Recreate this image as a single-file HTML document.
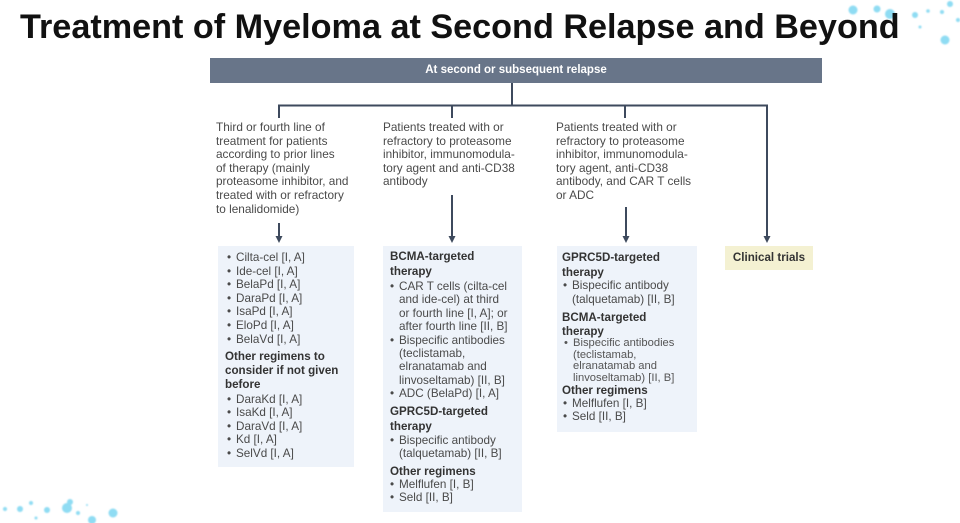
<!DOCTYPE html>
<html>
<head>
<meta charset="utf-8">
<style>
  html,body{margin:0;padding:0;background:#fff;}
  body{width:960px;height:523px;position:relative;overflow:hidden;font-family:"Liberation Sans",Arial,sans-serif;}
  .abs{position:absolute;}
  .title{left:20px;top:10px;font-size:34.2px;line-height:34px;font-weight:bold;color:#111;white-space:nowrap;}
  .bar{left:210px;top:58px;width:612px;height:25px;background:#687589;}
  .bar span{display:block;text-align:center;color:#fff;font-size:11.5px;font-weight:bold;line-height:25px;}
  .col{font-size:11.8px;line-height:13.6px;color:#4a4a4a;white-space:nowrap;}
  .box{background:#eef3fa;}
  .cl{background:#f4f1d2;}
  .t{font-size:11.7px;color:#4a4a4a;white-space:nowrap;}
  .h{font-size:11.6px;font-weight:bold;color:#333;white-space:nowrap;}
  .b{position:relative;padding-left:9px;}
  .b:before{content:"•";position:absolute;left:0;top:0;}
  .ind{padding-left:9px;}
</style>
</head>
<body>

<!-- decorative dots -->
<svg class="abs" style="left:0;top:0" width="960" height="523">
  <defs>
    <filter id="bl" x="-50%" y="-50%" width="200%" height="200%"><feGaussianBlur stdDeviation="0.8"/></filter>
  </defs>
  <g fill="#8fdcf3" filter="url(#bl)">
    <circle cx="853" cy="10" r="4.5"/>
    <circle cx="877" cy="9" r="3.5"/>
    <circle cx="890" cy="14" r="5"/>
    <circle cx="915" cy="15" r="3"/>
    <circle cx="928" cy="11" r="1.8"/>
    <circle cx="942" cy="12" r="2"/>
    <circle cx="950" cy="4" r="3"/>
    <circle cx="945" cy="40" r="4.5"/>
    <circle cx="920" cy="27" r="1.5"/>
    <circle cx="958" cy="20" r="2"/>
    <circle cx="5" cy="509" r="2"/>
    <circle cx="20" cy="509" r="3"/>
    <circle cx="31" cy="503" r="2"/>
    <circle cx="36" cy="518" r="1.5"/>
    <circle cx="47" cy="510" r="3"/>
    <circle cx="67" cy="508" r="5"/>
    <circle cx="70" cy="502" r="3"/>
    <circle cx="78" cy="513" r="2"/>
    <circle cx="87" cy="505" r="1"/>
    <circle cx="92" cy="520" r="4"/>
    <circle cx="113" cy="513" r="4.5"/>
  </g>
</svg>

<div class="abs title">Treatment of Myeloma at Second Relapse and Beyond</div>

<div class="abs bar"><span>At second or subsequent relapse</span></div>

<!-- connectors -->
<svg class="abs" style="left:0;top:0" width="960" height="523">
  <g stroke="#3e4a5d" stroke-width="2" fill="none">
    <line x1="512" y1="83" x2="512" y2="106"/>
    <line x1="278" y1="105.5" x2="768" y2="105.5"/>
    <line x1="279" y1="105" x2="279" y2="118"/>
    <line x1="452" y1="105" x2="452" y2="118"/>
    <line x1="625" y1="105" x2="625" y2="118"/>
    <line x1="767" y1="105" x2="767" y2="237"/>
    <line x1="279" y1="223" x2="279" y2="237"/>
    <line x1="452" y1="195" x2="452" y2="237"/>
    <line x1="626" y1="207" x2="626" y2="237"/>
  </g>
  <g fill="#3e4a5d">
    <polygon points="275.5,236 282.5,236 279,243"/>
    <polygon points="448.5,236 455.5,236 452,243"/>
    <polygon points="622.5,236 629.5,236 626,243"/>
    <polygon points="763.5,236 770.5,236 767,243"/>
  </g>
</svg>

<!-- column headers -->
<div class="abs col" style="left:216px;top:121px;">Third or fourth line of<br>treatment for patients<br>according to prior lines<br>of therapy (mainly<br>proteasome inhibitor, and<br>treated with or refractory<br>to lenalidomide)</div>

<div class="abs col" style="left:383px;top:121px;">Patients treated with or<br>refractory to proteasome<br>inhibitor, immunomodula-<br>tory agent and anti-CD38<br>antibody</div>

<div class="abs col" style="left:556px;top:121px;">Patients treated with or<br>refractory to proteasome<br>inhibitor, immunomodula-<br>tory agent, anti-CD38<br>antibody, and CAR T cells<br>or ADC</div>

<!-- box 1 -->
<div class="abs box" style="left:218px;top:246px;width:136px;height:221px;"></div>
<div class="abs t" style="left:227px;top:251px;line-height:13.6px;">
  <div class="b">Cilta-cel [I, A]</div>
  <div class="b">Ide-cel [I, A]</div>
  <div class="b">BelaPd [I, A]</div>
  <div class="b">DaraPd [I, A]</div>
  <div class="b">IsaPd [I, A]</div>
  <div class="b">EloPd [I, A]</div>
  <div class="b">BelaVd [I, A]</div>
</div>
<div class="abs h" style="left:225px;top:350px;line-height:14px;">Other regimens to<br>consider if not given<br>before</div>
<div class="abs t" style="left:227px;top:393px;line-height:13.4px;">
  <div class="b">DaraKd [I, A]</div>
  <div class="b">IsaKd [I, A]</div>
  <div class="b">DaraVd [I, A]</div>
  <div class="b">Kd [I, A]</div>
  <div class="b">SelVd [I, A]</div>
</div>

<!-- box 2 -->
<div class="abs box" style="left:383px;top:246px;width:139px;height:266px;"></div>
<div class="abs h" style="left:390px;top:250px;line-height:14.5px;">BCMA-targeted<br>therapy</div>
<div class="abs t" style="left:390px;top:280px;line-height:13.4px;">
  <div class="b">CAR T cells (cilta-cel</div>
  <div class="ind">and ide-cel) at third</div>
  <div class="ind">or fourth line [I, A]; or</div>
  <div class="ind">after fourth line [II, B]</div>
  <div class="b">Bispecific antibodies</div>
  <div class="ind">(teclistamab,</div>
  <div class="ind">elranatamab and</div>
  <div class="ind">linvoseltamab) [II, B]</div>
  <div class="b">ADC (BelaPd) [I, A]</div>
</div>
<div class="abs h" style="left:390px;top:405px;line-height:14.5px;">GPRC5D-targeted<br>therapy</div>
<div class="abs t" style="left:390px;top:434px;line-height:13px;">
  <div class="b">Bispecific antibody</div>
  <div class="ind">(talquetamab) [II, B]</div>
</div>
<div class="abs h" style="left:390px;top:465px;line-height:13px;">Other regimens</div>
<div class="abs t" style="left:390px;top:478px;line-height:13px;">
  <div class="b">Melflufen [I, B]</div>
  <div class="b">Seld [II, B]</div>
</div>

<!-- box 3 -->
<div class="abs box" style="left:557px;top:246px;width:140px;height:186px;"></div>
<div class="abs h" style="left:562px;top:250px;line-height:15px;">GPRC5D-targeted<br>therapy</div>
<div class="abs t" style="left:563px;top:279px;line-height:13.5px;">
  <div class="b">Bispecific antibody</div>
  <div class="ind">(talquetamab) [II, B]</div>
</div>
<div class="abs h" style="left:562px;top:311px;line-height:13.5px;">BCMA-targeted<br>therapy</div>
<div class="abs t" style="left:564px;top:338px;line-height:11.6px;font-size:11.2px;color:#555;">
  <div class="b">Bispecific antibodies</div>
  <div class="ind">(teclistamab,</div>
  <div class="ind">elranatamab and</div>
  <div class="ind">linvoseltamab) [II, B]</div>
</div>
<div class="abs h" style="left:562px;top:384px;line-height:13px;">Other regimens</div>
<div class="abs t" style="left:563px;top:397px;line-height:13px;">
  <div class="b">Melflufen [I, B]</div>
  <div class="b">Seld [II, B]</div>
</div>

<!-- clinical trials -->
<div class="abs cl" style="left:725px;top:246px;width:88px;height:24px;"></div>
<div class="abs h" style="left:725px;top:246px;width:88px;line-height:24px;text-align:center;">Clinical trials</div>

</body>
</html>
